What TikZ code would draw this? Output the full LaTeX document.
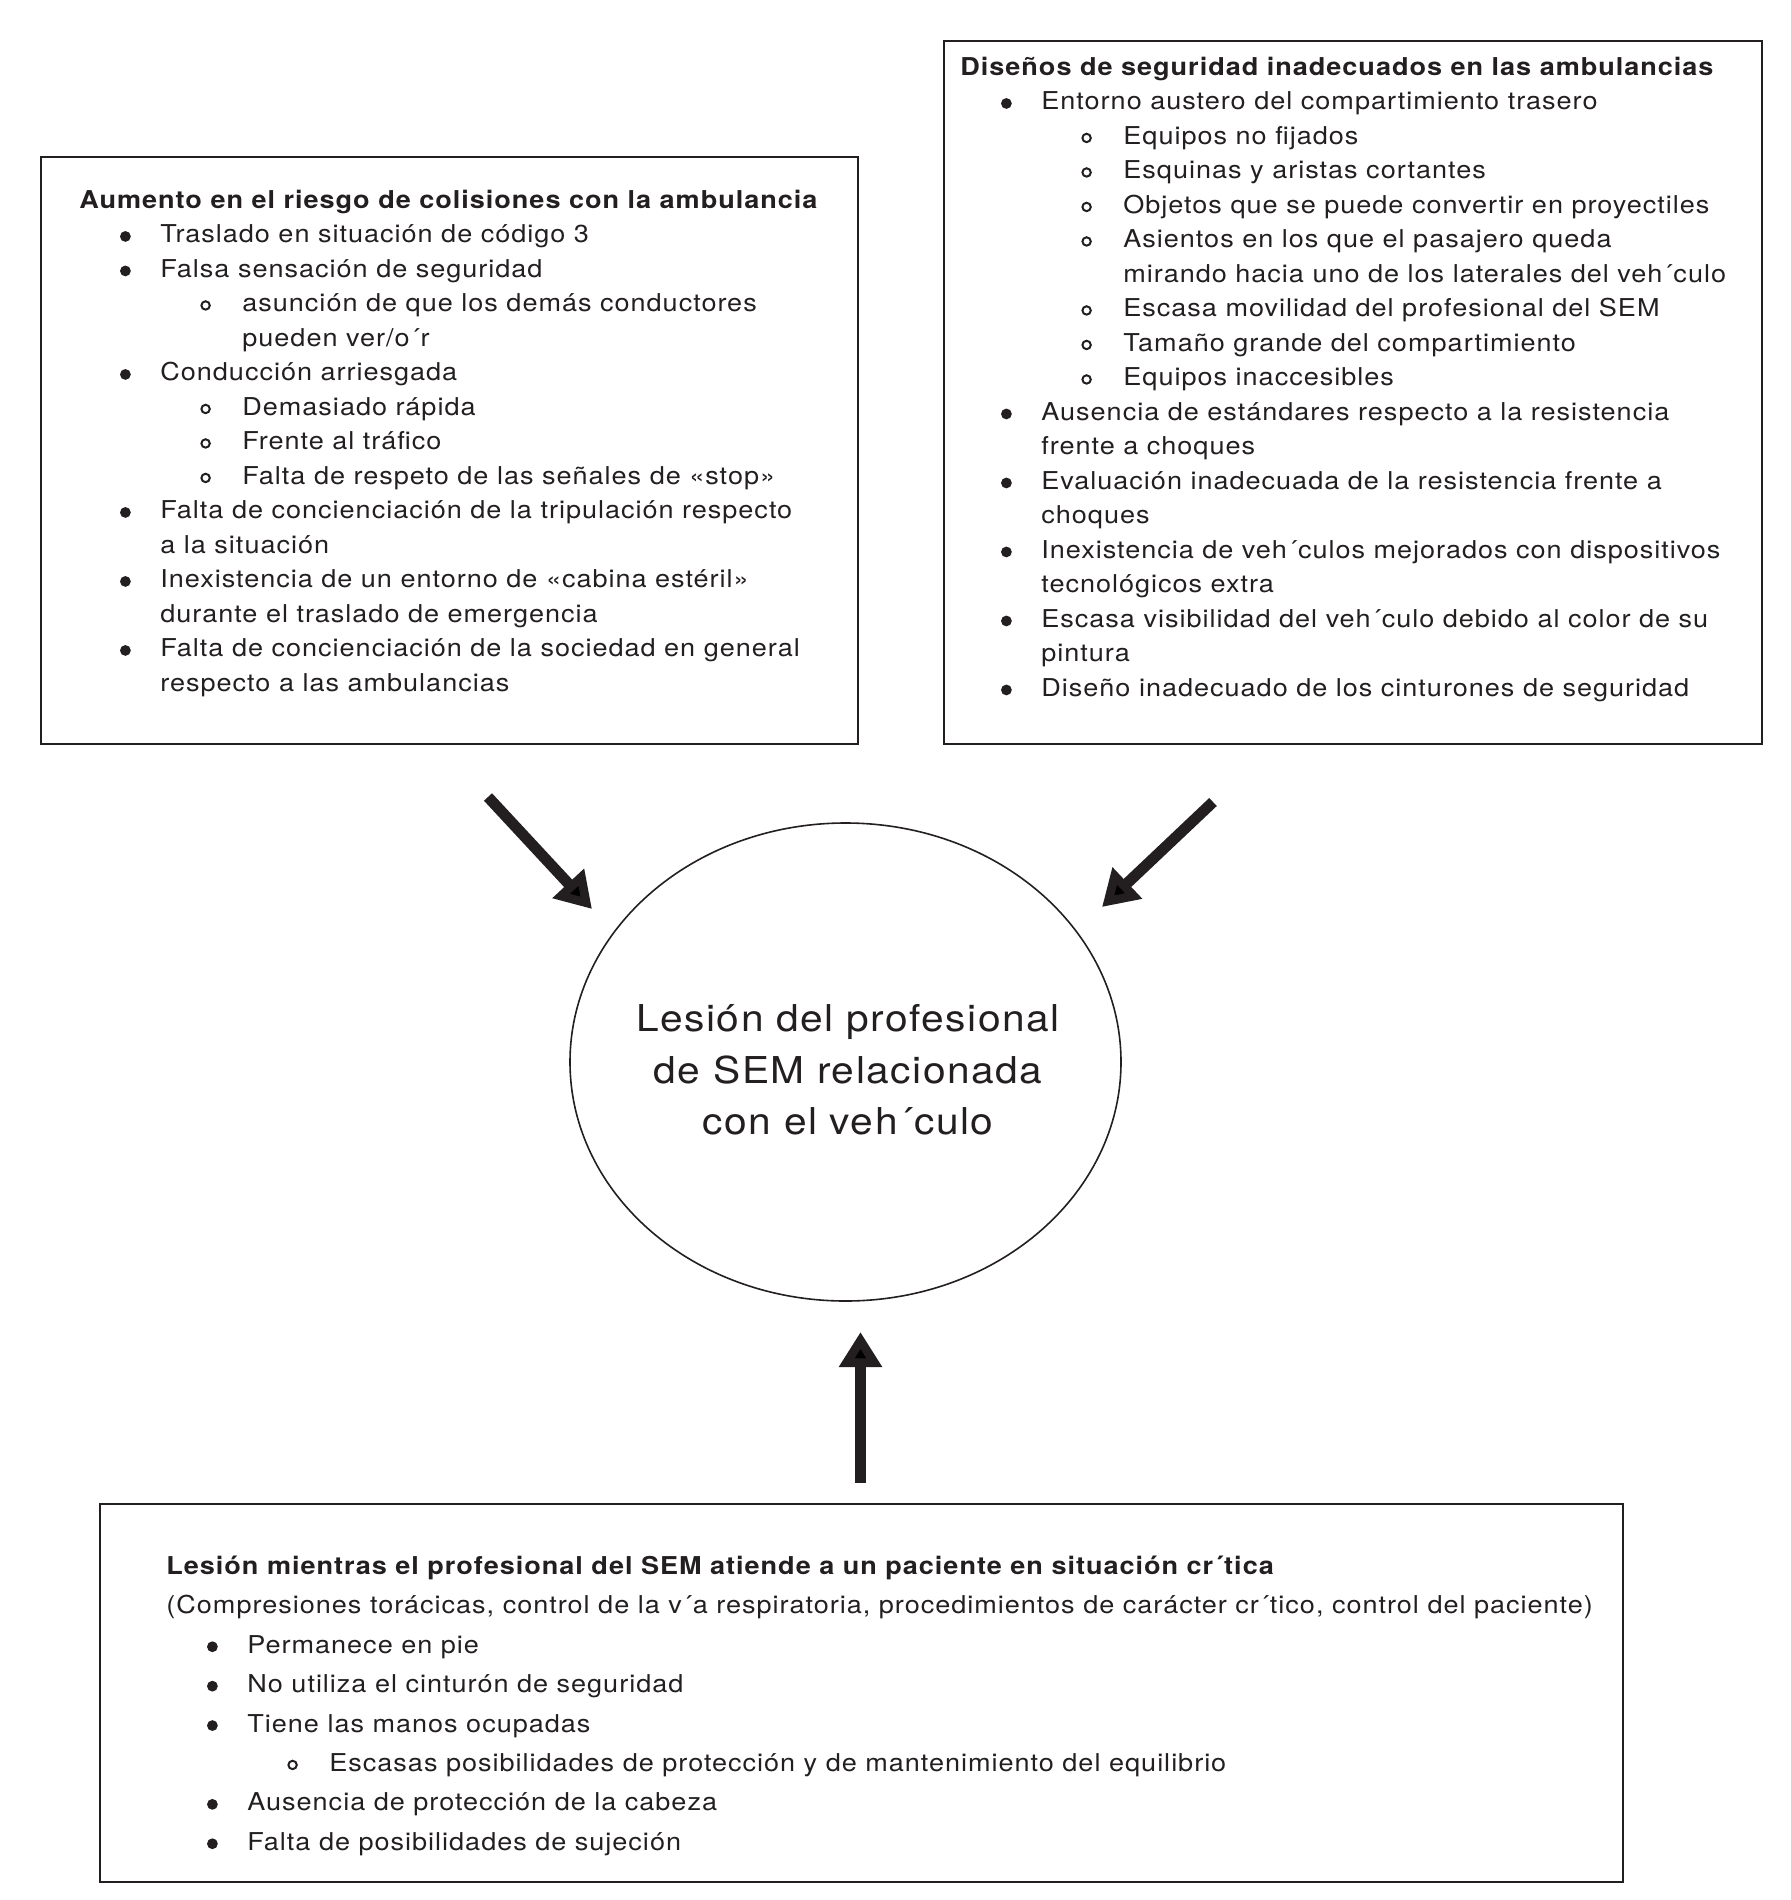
\documentclass[tikz,border=0pt]{standalone}
\usepackage{fontspec}
\setmainfont[LetterSpace=4,FakeStretch=1.1]{TeX Gyre Heros}
\usetikzlibrary{arrows.meta,shapes.geometric}
\definecolor{ink}{RGB}{35,31,32}
\tikzset{
  panel/.style={draw=ink, line width=1pt, anchor=north west, inner sep=0pt, outer sep=0pt},
  listtext/.style={anchor=north west, inner sep=0pt, align=left, text=ink, font=\fontsize{12.3}{17.25}\selectfont},
  widetext/.style={listtext, font=\fontsize{12.3}{19.7}\selectfont},
  oval/.style={draw=ink, ellipse, line width=0.8pt, minimum width=275.5pt, minimum height=239pt, inner sep=0pt},
  ovaltext/.style={align=center, text=ink, inner sep=0pt, font=\fontsize{18.5}{25.8}\selectfont},
  bigarrow/.style={draw=ink, line width=5.5pt, -{Triangle[length=17.5pt,width=20.5pt]}},
}
\newcommand\bdot{\tikz[baseline=-0.5ex]\fill[ink] (0,0) circle[radius=2.7pt];}
\newcommand\sdot{\tikz[baseline=-0.5ex]\draw[ink, line width=1pt] (0,0) circle[radius=2.1pt];}
\newcommand\bitem[1]{\hspace*{20.3pt}\makebox[20.2pt][l]{\bdot}#1}
\newcommand\bcont[1]{\hspace*{40.5pt}#1}
\newcommand\sitem[1]{\hspace*{60.5pt}\makebox[21pt][l]{\sdot}#1}
\newcommand\scont[1]{\hspace*{81.5pt}#1}
\begin{document}
\begin{tikzpicture}[x=0.5pt,y=-0.5pt]
\useasboundingbox (0,0) rectangle (1791,1900);
\node[panel, minimum width=408.5pt, minimum height=293.5pt] (riesgo) at (41,157) {};
\node[panel, minimum width=409pt, minimum height=351.5pt] (diseno) at (944,41) {};
\node[panel, minimum width=761.5pt, minimum height=189pt] (critico) at (100,1504) {};
\node[oval] (lesion) at (845.5,1062) {};
\node[listtext] (riesgotxt) at (79,183.85) {\strut\textbf{Aumento en el riesgo de colisiones con la ambulancia}\\
\bitem{Traslado en situación de código 3}\\
\bitem{Falsa sensación de seguridad}\\
\sitem{asunción de que los demás conductores}\\
\scont{pueden ver/o´r}\\
\bitem{Conducción arriesgada}\\
\sitem{Demasiado rápida}\\
\sitem{Frente al tráfico}\\
\sitem{Falta de respeto de las señales de «stop»}\\
\bitem{Falta de concienciación de la tripulación respecto}\\
\bcont{a la situación}\\
\bitem{Inexistencia de un entorno de «cabina estéril»}\\
\bcont{durante el traslado de emergencia}\\
\bitem{Falta de concienciación de la sociedad en general}\\
\bcont{respecto a las ambulancias}};
\node[listtext] (disenotxt) at (960,50.85) {\strut\textbf{Diseños de seguridad inadecuados en las ambulancias}\\
\bitem{Entorno austero del compartimiento trasero}\\
\sitem{Equipos no fijados}\\
\sitem{Esquinas y aristas cortantes}\\
\sitem{Objetos que se puede convertir en proyectiles}\\
\sitem{Asientos en los que el pasajero queda}\\
\scont{mirando hacia uno de los laterales del veh´culo}\\
\sitem{Escasa movilidad del profesional del SEM}\\
\sitem{Tamaño grande del compartimiento}\\
\sitem{Equipos inaccesibles}\\
\bitem{Ausencia de estándares respecto a la resistencia}\\
\bcont{frente a choques}\\
\bitem{Evaluación inadecuada de la resistencia frente a}\\
\bcont{choques}\\
\bitem{Inexistencia de veh´culos mejorados con dispositivos}\\
\bcont{tecnológicos extra}\\
\bitem{Escasa visibilidad del veh´culo debido al color de su}\\
\bcont{pintura}\\
\bitem{Diseño inadecuado de los cinturones de seguridad}};
\node[widetext] (criticotxt) at (166,1546.4) {\strut\textbf{Lesión mientras el profesional del SEM atiende a un paciente en situación cr´tica}\\
(Compresiones torácicas, control de la v´a respiratoria, procedimientos de carácter cr´tico, control del paciente)\\
\bitem{Permanece en pie}\\
\bitem{No utiliza el cinturón de seguridad}\\
\bitem{Tiene las manos ocupadas}\\
\sitem{Escasas posibilidades de protección y de mantenimiento del equilibrio}\\
\bitem{Ausencia de protección de la cabeza}\\
\bitem{Falta de posibilidades de sujeción}};
\node[ovaltext] (lesiontxt) at (848,1070) {Lesión del profesional\\de SEM relacionada\\con el veh´culo};
\coordinate (riesgoend) at (488,797);
\coordinate (riesgotip) at (592,909);
\coordinate (disenoend) at (1213,802);
\coordinate (disenotip) at (1102,907);
\coordinate (criticoend) at (860.5,1483);
\coordinate (criticotip) at (860.5,1332);
\draw[bigarrow] (riesgoend) -- (riesgotip);
\draw[bigarrow] (disenoend) -- (disenotip);
\draw[bigarrow] (criticoend) -- (criticotip);
\end{tikzpicture}
\end{document}
